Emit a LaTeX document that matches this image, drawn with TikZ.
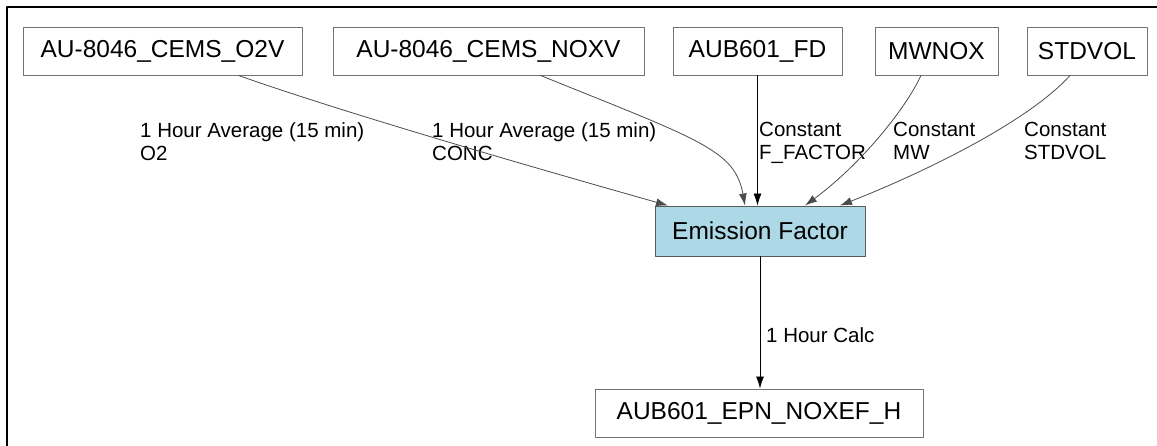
\documentclass[tikz,border=0pt]{standalone}
\usepackage{fontspec}
\setmainfont{Liberation Sans}
\usetikzlibrary{arrows.meta}
\begin{document}
\begin{tikzpicture}[x=1pt,y=-1pt,line join=round,>={Latex[length=12pt,width=8pt]}]
	\tikzset{tagbox/.style={draw=black!55,line width=0.9pt,fill=white,minimum height=48pt,inner sep=0pt,font=\fontsize{24.5}{30}\selectfont},
		calcbox/.style={tagbox,fill={rgb,255:red,173;green,216;blue,230},draw=black!65,minimum height=50pt},
		lbl/.style={anchor=north west,inner sep=0pt,align=left,font=\fontsize{20.5}{23}\selectfont},
		link/.style={draw=black!70,line width=0.8pt,->}}
	\useasboundingbox (0,0) rectangle (1157,446);
	\draw[line width=2.6pt] (7,446)--(7,7)--(1157,7);
	% input tags
	\node[tagbox,minimum width=279pt] (o2v) at (162.5,51) {AU-8046\_CEMS\_O2V};
	\node[tagbox,minimum width=311pt] (noxv) at (488.5,51) {AU-8046\_CEMS\_NOXV};
	\node[tagbox,minimum width=169pt] (fd) at (757.5,51) {AUB601\_FD};
	\node[tagbox,minimum width=123pt] (mwnox) at (936.5,51) {MWNOX};
	\node[tagbox,minimum width=120pt] (stdvol) at (1087,51) {STDVOL};
	% calculation and output
	\node[calcbox,minimum width=210pt] (ef) at (760,231) {Emission Factor};
	\node[tagbox,minimum width=328pt] (out) at (759,413) {AUB601\_EPN\_NOXEF\_H};
	% labels
	\node[lbl] (lo2) at (140,122) {1 Hour Average (15 min)\\O2};
	\node[lbl] (lconc) at (432,122) {1 Hour Average (15 min)\\CONC};
	\node[lbl] (lff) at (759,122) {Constant\\F\_FACTOR};
	\node[lbl] (lmw) at (893,122) {Constant\\MW};
	\node[lbl] (lvol) at (1024,122) {Constant\\STDVOL};
	\node[lbl] (lcalc) at (766,327) {1 Hour Calc};
	% connectors
	\draw[link] ([xshift=76pt]o2v.south) .. controls (350,115) and (560,175) .. ([xshift=-92pt]ef.north);
	\draw[link] ([xshift=52pt]noxv.south) .. controls (700,140) and (735,150) .. ([xshift=-15pt]ef.north);
	\draw[link,draw=black] (fd.south) -- (fd.south |- ef.north);
	\draw[link] ([xshift=-15.5pt]mwnox.south) .. controls (905,110) and (860,165) .. ([xshift=45pt]ef.north);
	\draw[link] ([xshift=-17pt]stdvol.south) .. controls (1030,120) and (930,170) .. ([xshift=80pt]ef.north);
	\draw[link,draw=black] (ef.south) -- (ef.south |- out.north);
\end{tikzpicture}
\end{document}
